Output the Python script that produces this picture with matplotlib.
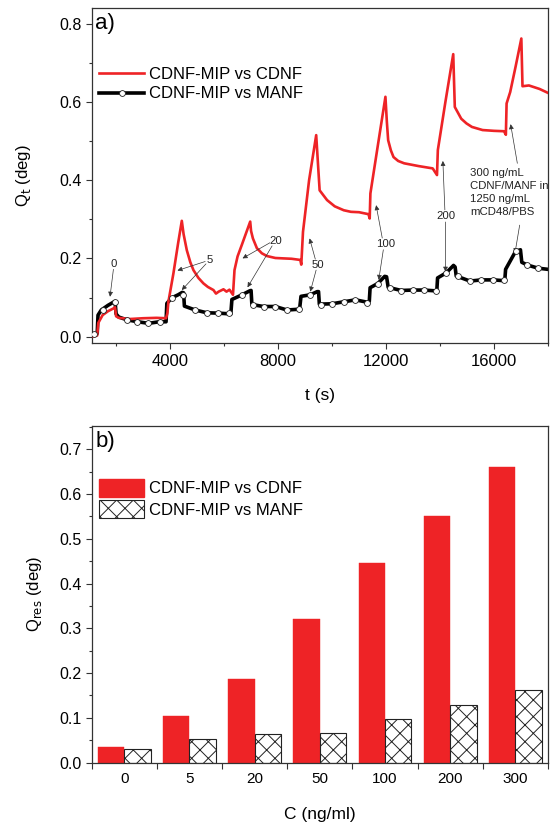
import numpy as np
import matplotlib
matplotlib.use('Agg')
from matplotlib import pyplot as plt
from matplotlib.ticker import MultipleLocator, FixedLocator
from matplotlib.lines import Line2D
from matplotlib.patches import Patch

plt.rcParams['font.family'] = ['Liberation Sans', 'DejaVu Sans']
plt.rcParams['hatch.linewidth'] = 0.7

RED = '#EE2326'

# --- a) Q_t vs tiempo ---
cdnf_t = [1095, 1300, 1340, 1500, 1700, 1900, 1960, 2000, 2100, 2500, 3000, 3500, 3850,
          3900, 3937, 4124, 4300, 4434, 4500, 4619, 4750, 4865, 5050, 5236, 5400, 5607,
          5700, 5800, 5977, 6090, 6200, 6330,
          6386, 6500, 6660, 6968, 7000, 7068, 7216, 7400, 7588, 7900, 8190, 8500, 8824, 8860,
          8924, 9150, 9413, 9540, 9815, 10100, 10435, 10700, 11000, 11350, 11395,
          11421, 11700, 11978, 12030, 12079, 12180, 12277, 12450, 12673, 13201, 13729, 13888,
          13920, 14200, 14490, 14548, 14786, 14980, 15182, 15578, 16000, 16370, 16440,
          16467, 16600, 16800, 17013, 17056, 17294, 17690, 18000]
cdnf_q = [0.0, 0.003, 0.035, 0.055, 0.065, 0.072, 0.075, 0.052, 0.048, 0.045, 0.047, 0.048, 0.047,
          0.060, 0.089, 0.162, 0.240, 0.296, 0.262, 0.221, 0.190, 0.170, 0.150, 0.136, 0.127, 0.119,
          0.110, 0.115, 0.121, 0.115, 0.120, 0.107,
          0.170, 0.205, 0.235, 0.294, 0.270, 0.251, 0.226, 0.213, 0.206, 0.201, 0.200, 0.199, 0.196, 0.184,
          0.268, 0.400, 0.515, 0.374, 0.349, 0.333, 0.323, 0.319, 0.318, 0.313, 0.302,
          0.366, 0.490, 0.613, 0.550, 0.502, 0.476, 0.459, 0.449, 0.443, 0.436, 0.430, 0.413,
          0.477, 0.600, 0.722, 0.587, 0.557, 0.545, 0.536, 0.528, 0.526, 0.525, 0.516,
          0.596, 0.625, 0.690, 0.762, 0.640, 0.642, 0.633, 0.623]

manf_t = [1095, 1300, 1330, 1450, 1700, 1900, 1960, 2000, 2100, 2400, 2800, 3200, 3600, 3850,
          3880, 4060, 4300, 4450, 4500, 4530, 4930, 5360, 5800, 6250,
          6290, 6640, 6950, 7000, 7030, 7460, 7900, 8330, 8760, 8800,
          8850, 9200, 9450, 9500, 9530, 10000, 10430, 10870, 11300, 11380,
          11410, 11700, 11950, 12020, 12080, 12560, 13000, 13400, 13830, 13880,
          13910, 14230, 14500, 14560, 14600, 15110, 15530, 15980, 16370, 16400,
          16430, 16800, 16980, 17030, 17240, 17630, 18000]
manf_q = [0.005, 0.008, 0.055, 0.068, 0.080, 0.088, 0.090, 0.058, 0.050, 0.043, 0.038, 0.034, 0.038, 0.038,
          0.085, 0.099, 0.107, 0.113, 0.112, 0.078, 0.068, 0.061, 0.060, 0.058,
          0.095, 0.106, 0.117, 0.118, 0.082, 0.077, 0.077, 0.068, 0.070, 0.072,
          0.103, 0.107, 0.115, 0.115, 0.083, 0.084, 0.089, 0.094, 0.088, 0.090,
          0.125, 0.136, 0.154, 0.153, 0.126, 0.118, 0.119, 0.119, 0.117, 0.116,
          0.150, 0.163, 0.182, 0.178, 0.155, 0.142, 0.145, 0.145, 0.143, 0.144,
          0.172, 0.218, 0.222, 0.190, 0.183, 0.175, 0.172]

# marcadores abiertos sobre la curva MANF
manf_mk_t = [1170, 1510, 1959, 2393, 2787, 3195, 3629, 4063, 4494, 4928, 5362, 5770, 6200,
             6650, 7068, 7464, 7896, 8330, 8790, 9180, 9580, 10010, 10430, 10865, 11299,
             11720, 12137, 12560, 12993, 13400, 13835, 14220, 14670, 15109, 15532, 15978,
             16367, 16801, 17236, 17625]
manf_mk_q = [0.007, 0.068, 0.089, 0.043, 0.038, 0.034, 0.038, 0.099, 0.107, 0.068, 0.061, 0.060, 0.060,
             0.106, 0.081, 0.077, 0.077, 0.068, 0.070, 0.106, 0.082, 0.084, 0.089, 0.094, 0.087,
             0.135, 0.124, 0.117, 0.119, 0.119, 0.117, 0.162, 0.154, 0.141, 0.145, 0.145,
             0.145, 0.218, 0.183, 0.175]

# etiquetas de concentración: texto y flechas (cola -> punta)
conc_labels = ['0', '5', '20', '50', '100', '200']
conc_label_xy = [(1922, 0.186), (5459, 0.196), (7896, 0.245), (9466, 0.183), (11978, 0.236), (14204, 0.308)]
conc_arrows = [
    ((1900, 0.172), (1774, 0.102)),
    ((5300, 0.192), (4272, 0.169)),
    ((5330, 0.186), (4434, 0.119)),
    ((7700, 0.240), (6683, 0.200)),
    ((7780, 0.232), (6868, 0.126)),
    ((9380, 0.198), (9169, 0.251)),
    ((9410, 0.170), (9195, 0.115)),
    ((11860, 0.252), (11633, 0.336)),
    ((11900, 0.222), (11730, 0.145)),
    ((14180, 0.324), (14106, 0.449)),
    ((14204, 0.293), (14204, 0.166)),
    ((16865, 0.443), (16616, 0.543)),
    ((16951, 0.285), (16776, 0.213)),
]
note_text = '300 ng/mL\nCDNF/MANF in\n1250 ng/mL\nmCD48/PBS'

# --- b) respuesta vs concentración ---
conc = ['0', '5', '20', '50', '100', '200', '300']
q_cdnf = [0.035, 0.105, 0.187, 0.321, 0.445, 0.552, 0.661]
q_manf = [0.030, 0.052, 0.063, 0.067, 0.097, 0.128, 0.161]

fig = plt.figure(figsize=(5.57, 8.24), dpi=100)
ax1 = fig.add_axes([0.1646, 0.5834, 0.8192, 0.4069])
ax2 = fig.add_axes([0.1646, 0.0746, 0.8192, 0.4084])

for ax in (ax1, ax2):
    for s in ax.spines.values():
        s.set_linewidth(0.9)
        s.set_color('#333333')
    ax.tick_params(which='both', direction='out', labelsize=11.5, color='#333333', width=0.8)
    ax.tick_params(which='major', length=4)
    ax.tick_params(which='minor', length=2.5)

ax1.plot(cdnf_t, cdnf_q, color=RED, lw=1.9, zorder=3)
ax1.plot(manf_t, manf_q, color='black', lw=2.6, zorder=2)
ax1.plot(manf_mk_t, manf_mk_q, ls='none', marker='o', ms=4.2, mfc='white', mec='#222222',
         mew=0.6, zorder=4)

for lab, (x, y) in zip(conc_labels, conc_label_xy):
    ax1.text(x, y, lab, fontsize=8.2, ha='center', va='center', color='#222222')
for tail, tip in conc_arrows:
    ax1.annotate('', xy=tip, xytext=tail,
                 arrowprops=dict(arrowstyle='-|>', lw=0.5, color='#333333',
                                 mutation_scale=7, shrinkA=0, shrinkB=0))
ax1.text(15106, 0.368, note_text, fontsize=8.2, ha='left', va='center',
         linespacing=1.35, color='#222222')

ax1.set_xlim(1095, 18000)
ax1.set_ylim(-0.017, 0.84)
ax1.xaxis.set_major_locator(FixedLocator([4000, 8000, 12000, 16000]))
ax1.xaxis.set_minor_locator(FixedLocator([2000, 6000, 10000, 14000, 18000]))
ax1.yaxis.set_major_locator(MultipleLocator(0.2))
ax1.yaxis.set_minor_locator(MultipleLocator(0.1))
ax1.set_yticklabels([f'{v:.1f}' for v in ax1.get_yticks()])
ax1.tick_params(axis='x', labelsize=12)
ax1.set_xlabel('t (s)', fontsize=12.5, labelpad=14)
ax1.set_ylabel(r'Q$_{\rm t}$ (deg)', fontsize=12, labelpad=19)
ax1.text(0.008, 0.985, 'a)', transform=ax1.transAxes, fontsize=16, ha='left', va='top')

h1 = [Line2D([], [], color=RED, lw=1.9),
      Line2D([], [], color='black', lw=2.6, marker='o', ms=4.2, mfc='white', mec='#222222', mew=0.6)]
ax1.legend(h1, ['CDNF-MIP vs CDNF', 'CDNF-MIP vs MANF'], loc='upper left',
           bbox_to_anchor=(-0.005, 0.853), frameon=False, fontsize=12, handlelength=2.7,
           handletextpad=0.3, labelspacing=0.25, borderaxespad=0.2)

x = np.arange(len(conc))
w = 0.405
ax2.bar(x - w / 2, q_cdnf, width=w, color=RED, edgecolor=RED, lw=0.3, zorder=2)
ax2.bar(x + w / 2, q_manf, width=w, color='white', edgecolor='#222222', hatch='xx', lw=0.8, zorder=2)

ax2.set_xlim(-0.5, len(conc) - 0.5)
ax2.set_ylim(0, 0.752)
ax2.set_xticks(x)
ax2.set_xticklabels(conc)
ax2.xaxis.set_minor_locator(FixedLocator(np.arange(len(conc) + 1) - 0.5))
ax2.tick_params(axis='x', which='major', length=0, pad=7, labelsize=11)
ax2.tick_params(axis='x', which='minor', length=4)
ax2.yaxis.set_major_locator(MultipleLocator(0.1))
ax2.yaxis.set_minor_locator(MultipleLocator(0.05))
ax2.set_yticklabels([f'{v:.1f}' for v in ax2.get_yticks()])
ax2.set_xlabel('C (ng/ml)', fontsize=12.5, labelpad=15)
ax2.set_ylabel(r'Q$_{\rm res}$ (deg)', fontsize=12, labelpad=11)
ax2.text(0.008, 0.985, 'b)', transform=ax2.transAxes, fontsize=16, ha='left', va='top')

h2 = [Patch(facecolor=RED, edgecolor=RED),
      Patch(facecolor='white', edgecolor='#222222', hatch='xx', lw=0.8)]
ax2.legend(h2, ['CDNF-MIP vs CDNF', 'CDNF-MIP vs MANF'], loc='upper left',
           bbox_to_anchor=(-0.005, 0.873), frameon=False, fontsize=12, handlelength=2.7,
           handleheight=1.3, handletextpad=0.3, labelspacing=0.2, borderaxespad=0.2)

fig.savefig('out.png', dpi=100)
